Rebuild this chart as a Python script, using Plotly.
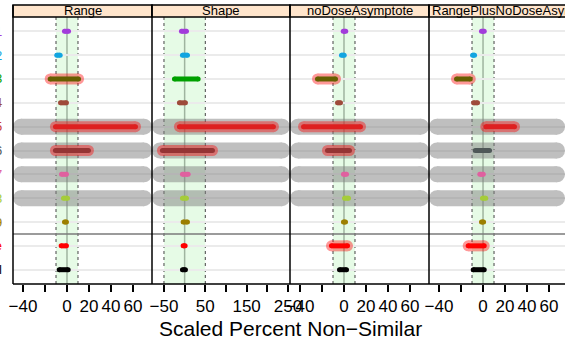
import plotly.graph_objects as go

# ---------------- data ----------------
categories = ["Lot 01", "Lot 02", "Lot 03", "Lot 04", "Lot 05", "Lot 06",
              "Lot 07", "Lot 08", "Lot 09", "Reference", "Control"]
row_colors = ["#A23BDB", "#11A5E0", "#00A000", "#9E4A3A", "#C83737", "#4F5858",
              "#E0609F", "#A5CC3A", "#9C7F00", "#FF0000", "#000000"]

panel_titles = ["Range", "Shape", "noDoseAsymptote", "RangePlusNoDoseAsymptote"]

range_lo = [-2.3, -9.3, -15.3, -5.9, -10.5, -10.5, -5.0, -3.2, -2.3, -5.3, -7.1]
range_hi = [1.4, -6.2, 10.5, -0.5, 62.3, 19.5, -0.5, 0.5, -0.5, -0.5, 1.1]

shape_lo = [-7.7, -5.3, -24.7, -12.6, -12.6, -53.7, -5.3, -5.3, -3.6, -3.6, -5.3]
shape_hi = [4.4, 6.8, 32.7, 1.9, 214.9, 67.3, 8.5, 4.4, 6.8, 1.2, 1.9]

nda_lo = [-0.7, -2.3, -24.1, -5.9, -36.8, -15.0, -0.5, 0.5, -0.5, -11.4, -4.1]
nda_hi = [1.6, 0.2, -7.7, -3.2, 15.0, 5.0, 2.3, 4.1, 1.4, 3.2, 2.3]

rpn_lo = [-1.4, -9.5, -24.1, -8.6, 2.5, -7.1, -2.9, -0.5, -1.4, -13.5, -8.9]
rpn_hi = [1.1, -7.7, -11.6, -5.0, 28.6, 5.9, 0.2, 2.5, 0.5, 1.1, 1.1]

panel_lo = [range_lo, shape_lo, nda_lo, rpn_lo]
panel_hi = [range_hi, shape_hi, nda_hi, rpn_hi]

# rows (1-based) marked as failing in each panel
halo_rows = [[3, 5, 6], [5, 6], [3, 5, 6, 10], [3, 5, 10]]
# rows highlighted with a grey band in every panel
flagged_rows = [5, 6, 7, 8]
# equivalence bounds per panel
equiv_bounds = [10, 50, 10, 10]
# last row of the first group
group_break = 9

x_ranges = [[-49.1, 77.3], [-79, 255], [-49.1, 77.3], [-49.1, 74.5]]
x_tickvals = [[-40, -20, 0, 20, 40, 60],
              [-50, 0, 50, 100, 150, 200, 250],
              [-40, -20, 0, 20, 40, 60],
              [-40, -20, 0, 20, 40, 60]]
x_ticktext = [["\u221240", "", "0", "20", "40", "60"],
              ["\u221250", "", "50", "", "150", "", "250"],
              ["\u221240", "", "0", "20", "40", "60"],
              ["\u221240", "", "0", "20", "40", "60"]]
x_title = "Scaled Percent Non\u2212Similar"

# ---------------- layout geometry ----------------
W, H = 565, 339
ML, MR, MT, MB = 13, 0, 17, 55
panel_edges_px = [13, 152, 290, 429, 565]
plot_w = W - ML - MR
plot_h = H - MT - MB
domains = [[(panel_edges_px[i] - ML) / plot_w, (panel_edges_px[i + 1] - ML) / plot_w]
           for i in range(4)]
strip_h = 12 / plot_h
FONT = "Liberation Sans, Arial, Helvetica, sans-serif"

BAND_W = 16
SEG_W = 5
HALO_W = 11

fig = go.Figure()
n = len(categories)
rows = list(range(1, n + 1))

for p in range(4):
    xa = "x" if p == 0 else f"x{p + 1}"
    ppu = (panel_edges_px[p + 1] - panel_edges_px[p]) / (x_ranges[p][1] - x_ranges[p][0])
    # grey bands behind flagged rows
    bx, by = [], []
    a = x_ranges[p][0] + (BAND_W / 2) / ppu
    b = x_ranges[p][1] - (BAND_W / 2) / ppu
    for r in flagged_rows:
        bx += [a, b, None]
        by += [r, r, None]
    fig.add_trace(go.Scatter(x=bx, y=by, xaxis=xa, yaxis="y", mode="lines+markers",
                             line=dict(color="#808080", width=BAND_W),
                             marker=dict(color="#808080", size=BAND_W, line=dict(width=0)),
                             opacity=0.5, hoverinfo="skip", showlegend=False))
    # interval segments
    for i in range(n):
        fig.add_trace(go.Scatter(x=[panel_lo[p][i], panel_hi[p][i]], y=[rows[i], rows[i]],
                                 xaxis=xa, yaxis="y", mode="lines+markers",
                                 line=dict(color=row_colors[i], width=SEG_W),
                                 marker=dict(color=row_colors[i], size=SEG_W, line=dict(width=0)),
                                 hoverinfo="skip", showlegend=False))
    # red halos for failing rows
    hx, hy = [], []
    for r in halo_rows[p]:
        hx += [panel_lo[p][r - 1], panel_hi[p][r - 1], None]
        hy += [r, r, None]
    fig.add_trace(go.Scatter(x=hx, y=hy, xaxis=xa, yaxis="y", mode="lines+markers",
                             line=dict(color="#FF0000", width=HALO_W),
                             marker=dict(color="#FF0000", size=HALO_W, line=dict(width=0)),
                             opacity=0.4, hoverinfo="skip", showlegend=False))

shapes = []
annotations = []
for p in range(4):
    xa = "x" if p == 0 else f"x{p + 1}"
    xd = f"{xa} domain"
    bnd = equiv_bounds[p]
    # equivalence region
    shapes.append(dict(type="rect", xref=xa, yref="y domain", x0=-bnd, x1=bnd, y0=0, y1=1,
                       fillcolor="#E6FBE6", line=dict(width=0), layer="below"))
    for v in (-bnd, bnd):
        shapes.append(dict(type="line", xref=xa, yref="y domain", x0=v, x1=v, y0=0, y1=1,
                           line=dict(color="#444444", width=1, dash="dot"), layer="below"))
    shapes.append(dict(type="line", xref=xa, yref="y domain", x0=0, x1=0, y0=0, y1=1,
                       line=dict(color="#9FB49F", width=1.5), layer="below"))
    # group separator
    shapes.append(dict(type="line", xref=xd, yref="y", x0=0, x1=1,
                       y0=group_break + 0.5, y1=group_break + 0.5,
                       line=dict(color="#7A7A7A", width=1.5), layer="above"))
    # strip
    shapes.append(dict(type="rect", xref=xd, yref="paper", x0=0, x1=1 if p < 3 else 1.05,
                       y0=1, y1=1 + strip_h, fillcolor="#FFE5CC",
                       line=dict(color="black", width=1.5), layer="above"))
    # panel borders (left, top, bottom)
    shapes.append(dict(type="line", xref=xd, yref="paper", x0=0, x1=0, y0=0, y1=1 + strip_h,
                       line=dict(color="black", width=1.5), layer="above"))
    shapes.append(dict(type="line", xref=xd, yref="paper", x0=0, x1=1 if p < 3 else 1.05,
                       y0=0, y1=0, line=dict(color="black", width=1.5), layer="above"))
    if p < 3:
        annotations.append(dict(text=panel_titles[p], xref=xd, yref="paper", x=0.5,
                                y=1 + strip_h / 2, xanchor="center", yanchor="middle",
                                showarrow=False, font=dict(family=FONT, size=13, color="black")))
    else:
        annotations.append(dict(text=panel_titles[p], xref=xd, yref="paper", x=0, xshift=1,
                                y=1 + strip_h / 2, xanchor="left", yanchor="middle",
                                showarrow=False, font=dict(family=FONT, size=13, color="black")))

# row labels (mostly outside the visible page on the left)
for i in range(n):
    annotations.append(dict(text=categories[i], xref="paper", yref="y", x=0, y=rows[i],
                            xanchor="right", yanchor="middle", xshift=-9, showarrow=False,
                            font=dict(family=FONT, size=13, color=row_colors[i])))

annotations.append(dict(text=x_title, xref="paper", yref="paper",
                        x=(290.5 - ML) / plot_w, y=(284 - 328) / plot_h,
                        xanchor="center", yanchor="middle", showarrow=False,
                        font=dict(family=FONT, size=21, color="black")))

layout = dict(
    width=W, height=H, autosize=False,
    margin=dict(l=ML, r=MR, t=MT, b=MB, pad=0, autoexpand=False),
    paper_bgcolor="white", plot_bgcolor="white",
    font=dict(family=FONT, color="black"),
    showlegend=False,
    shapes=shapes, annotations=annotations,
    yaxis=dict(range=[n + 0.6, 0.4], tickvals=rows, showticklabels=False, ticks="",
               showgrid=True, gridcolor="#EBEBEB", gridwidth=1.5, zeroline=False,
               showline=False, domain=[0, 1], anchor="x", fixedrange=True, automargin=False),
)
for p in range(4):
    key = "xaxis" if p == 0 else f"xaxis{p + 1}"
    layout[key] = dict(domain=domains[p], range=x_ranges[p], anchor="y",
                       tickvals=x_tickvals[p], ticktext=x_ticktext[p], tickangle=0,
                       ticks="outside", ticklen=7, tickwidth=1.5, tickcolor="black",
                       tickfont=dict(family=FONT, size=17, color="black"),
                       showgrid=False, zeroline=False, showline=False, fixedrange=True,
                       automargin=False)

fig.update_layout(**layout)
fig.write_html("out.html", config={"displayModeBar": False, "responsive": False},
               post_script="document.body.style.margin='0';")
